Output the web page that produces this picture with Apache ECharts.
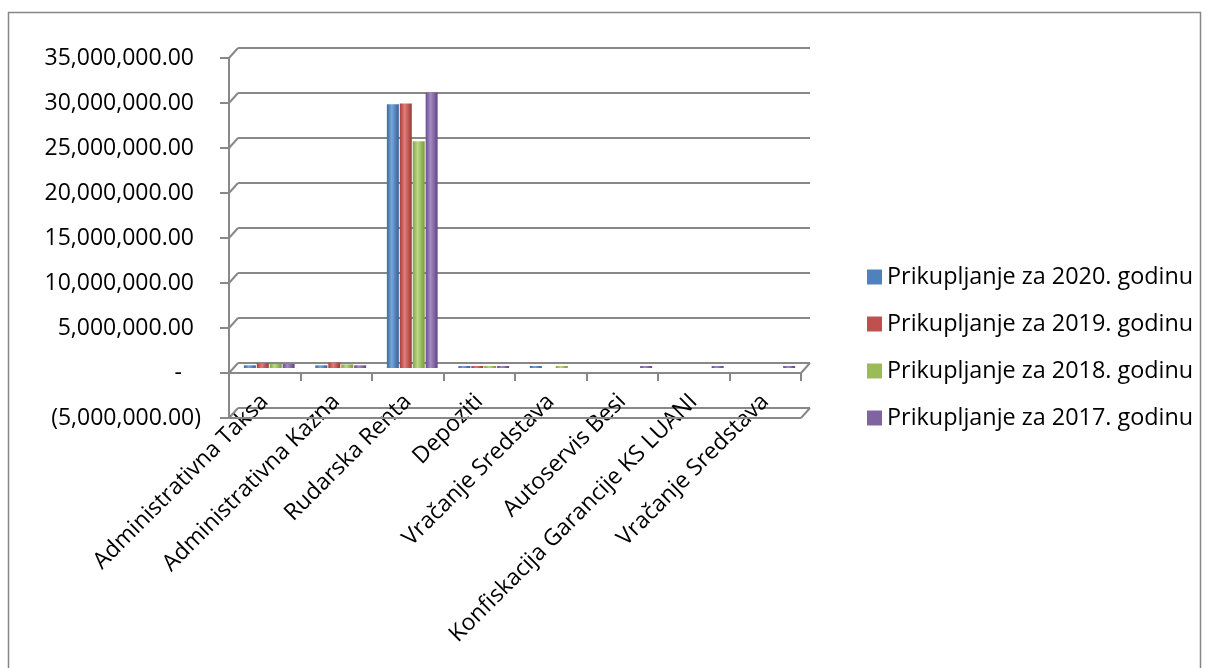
<!DOCTYPE html>
<html><head><meta charset="utf-8">
<script src="https://cdn.jsdelivr.net/npm/echarts@6/dist/echarts.min.js"></script>
<style>html,body{margin:0;padding:0;background:#fff}#c{width:1206px;height:668px}</style>
</head><body><div id="c"></div>
<script>
const categories = ['Administrativna Taksa','Administrativna Kazna','Rudarska Renta','Depoziti','Vračanje Sredstava','Autoservis Besi','Konfiskacija Garancije KS LUANI','Vračanje Sredstava'];
const seriesNames = ['Prikupljanje za 2020. godinu','Prikupljanje za 2019. godinu','Prikupljanje za 2018. godinu','Prikupljanje za 2017. godinu'];
const v2020 = [300000, 300000, 29300000, 60000, 60000, null, null, null];
const v2019 = [550000, 600000, 29400000, 60000, null, null, null, null];
const v2018 = [450000, 400000, 25200000, 60000, 60000, null, null, null];
const v2017 = [450000, 300000, 30600000, 60000, null, 60000, 60000, 60000];
const yMin = -5000000, yMax = 35000000, yStep = 5000000;
const tickValues = [-5000000, 0, 5000000, 10000000, 15000000, 20000000, 25000000, 30000000, 35000000];

const LINE = '#888888';
const DX = 9, DY = -10; // depth offset of the back wall
const colors = [['#3a6aa6','#79a5dc','#34619a'],['#a83d3a','#e07c79','#9c3734'],['#83a444','#bcd884','#789a3c'],['#684e8c','#a58bc6','#5f4681']];
const flat = ['#4F81BD','#C0504D','#9BBB59','#8064A2'];
function grad(c){return {type:'linear',x:0,y:0,x2:1,y2:0,colorStops:[{offset:0,color:c[0]},{offset:0.4,color:c[1]},{offset:1,color:c[2]}]};}
function fmt(v){
  if(v===0) return '{z|-}';
  const s = Math.abs(v).toLocaleString('en-US',{minimumFractionDigits:2,maximumFractionDigits:2});
  return v<0 ? '{n|('+s+')}' : '{p|'+s+'}';
}
const FONT = 'Open Sans';
const all=[v2020,v2019,v2018,v2017];
const G = {w:572, h:360};
const chart = echarts.init(document.getElementById('c'));
chart.setOption({
  animation:false,
  textStyle:{fontFamily:FONT},
  graphic:[{type:'rect',shape:{x:8.5,y:12.5,width:1192,height:660},style:{fill:'none',stroke:'#868686',lineWidth:1.5},z:-1}],
  legend:{orient:'vertical',left:862,top:260,itemGap:23,itemWidth:15,itemHeight:15,icon:'rect',
    textStyle:{fontSize:23.4,lineHeight:24,color:'#000',fontFamily:FONT},
    data:seriesNames.map((n,i)=>({name:n,itemStyle:{color:flat[i]}}))},
  grid:[
    {left:229, top:58, width:G.w, height:G.h, outerBoundsMode:'none', containLabel:false},      // front
    {left:229+DX, top:58+DY, width:G.w, height:G.h, outerBoundsMode:'none', containLabel:false}, // back wall
    {left:229+DX/2, top:58+DY/2, width:G.w, height:G.h, outerBoundsMode:'none', containLabel:false} // bars (mid depth)
  ],
  xAxis:[
    {gridIndex:0,type:'category',data:categories,
      axisLine:{onZero:true,lineStyle:{color:LINE,width:2}},
      axisTick:{show:true,length:8,lineStyle:{color:LINE,width:2}},
      axisLabel:{rotate:45,fontSize:23,color:'#000',margin:-20,interval:0,fontFamily:FONT}},
    {gridIndex:1,type:'category',data:categories,show:false},
    {gridIndex:2,type:'category',data:categories,show:false}
  ],
  yAxis:[
    {gridIndex:0,type:'value',min:yMin,max:yMax,interval:yStep,
      axisLine:{show:true,lineStyle:{color:LINE,width:2}},
      axisTick:{show:true,length:9,lineStyle:{color:LINE,width:2}},
      splitLine:{show:false},
      axisLabel:{formatter:fmt,color:'#000',margin:28,fontFamily:FONT,
        rich:{p:{fontSize:23,fontFamily:FONT,padding:[0,7,0,0]},n:{fontSize:23,fontFamily:FONT},z:{fontSize:23,fontFamily:FONT,padding:[0,19,0,0]}}}},
    {gridIndex:1,type:'value',min:yMin,max:yMax,interval:yStep,
      axisLine:{show:false},axisTick:{show:false},axisLabel:{show:false},
      splitLine:{show:true,lineStyle:{color:LINE,width:2}}},
    {gridIndex:2,type:'value',min:yMin,max:yMax,interval:yStep,show:false,splitLine:{show:false}}
  ],
  series: [
    {type:'custom',xAxisIndex:0,yAxisIndex:0,silent:true,legendHoverLink:false,z:1,
      data:tickValues.map(v=>[0,v]),
      renderItem:function(params,api){
        const cs=params.coordSys; const y=api.coord([0,api.value(1)])[1];
        const kids=[{type:'line',shape:{x1:cs.x,y1:y,x2:cs.x+DX,y2:y+DY},style:{stroke:LINE,lineWidth:2}}];
        const v=api.value(1);
        if(v===yMin || v===0){
          kids.push({type:'line',shape:{x1:cs.x,y1:y,x2:cs.x+cs.width,y2:y},style:{stroke:LINE,lineWidth:2}});
          kids.push({type:'line',shape:{x1:cs.x+cs.width,y1:y,x2:cs.x+cs.width+DX,y2:y+DY},style:{stroke:LINE,lineWidth:2}});
        }
        return {type:'group',children:kids};
      }}
  ].concat(all.map((d,i)=>({name:seriesNames[i],type:'bar',xAxisIndex:2,yAxisIndex:2,data:d,
    barGap:'8%',barCategoryGap:'29%',barMinHeight:2,z:3,
    itemStyle:{color:grad(colors[i])}})))
});
</script></body></html>
